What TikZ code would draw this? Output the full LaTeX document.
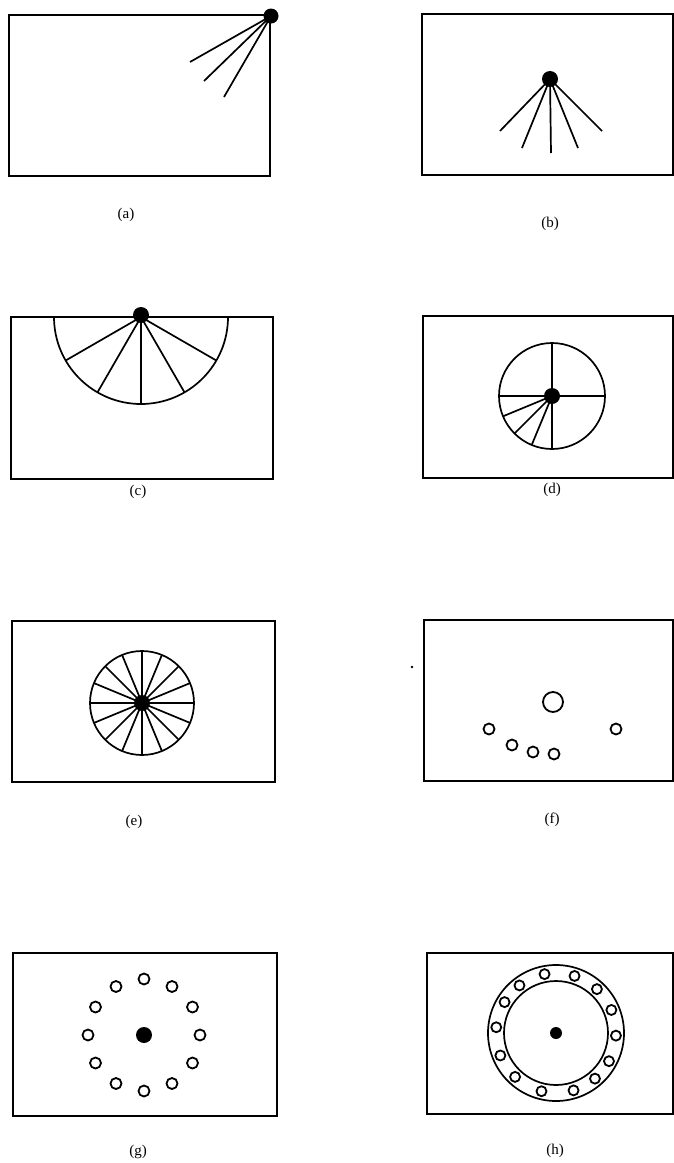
\documentclass[tikz,border=0pt]{standalone}
\usepackage{fontspec}
\setmainfont{Liberation Serif}
\begin{document}
\begin{tikzpicture}[x=1pt,y=-1pt,
  frame/.style={line width=1.8pt},
  spoke/.style={line width=1.7pt},
  hole/.style={line width=1.8pt,draw=black,fill=white},
  lab/.style={font=\fontsize{15}{17}\selectfont,inner sep=0pt}]
\useasboundingbox (0,0) rectangle (674,1163);

% ---------- (a)
\draw[frame] (9,15) rectangle (270,176);
\coordinate (a0) at (271,16);
\coordinate (a1) at (190,62);
\coordinate (a2) at (204,81);
\coordinate (a3) at (224,97);
\foreach \e in {a1,a2,a3} \draw[spoke] (a0) -- (\e);
\fill (a0) circle[radius=7.5pt];
\node[lab] (la) at (126,215) {(a)};

% ---------- (b)
\draw[frame] (422,14) rectangle (673,175);
\coordinate (b0) at (550,79);
\coordinate (b1) at (500,131);
\coordinate (b2) at (522,148);
\coordinate (b3) at (551,153);
\coordinate (b4) at (578,148);
\coordinate (b5) at (602,131);
\foreach \e in {b1,b2,b3,b4,b5} \draw[spoke] (b0) -- (\e);
\fill (b0) circle[radius=8pt];
\node[lab] (lb) at (550,224) {(b)};

% ---------- (c)
\draw[frame] (11,317) rectangle (273,479);
\coordinate (c0) at (141,317);
\draw[spoke] (54,317) arc[start angle=180,end angle=360,radius=87pt];
\foreach \a in {-30,-60,-90,-120,-150} \draw[spoke] (c0) -- ++(\a:87pt);
\fill (141,315) circle[radius=8pt];
\node[lab] (lc) at (138,492) {(c)};

% ---------- (d)
\draw[frame] (423,316) rectangle (673,478);
\coordinate (d0) at (552,396);
\draw[spoke] (d0) circle[radius=53pt];
\foreach \a in {0,90,180,270,202.5,225,247.5} \draw[spoke] (d0) -- ++(\a:53pt);
\fill (d0) circle[radius=8pt];
\node[lab] (ld) at (552,490) {(d)};

% ---------- (e)
\draw[frame] (12,621) rectangle (275,782);
\coordinate (e0) at (142,703);
\draw[spoke] (e0) circle[radius=52pt];
\foreach \a in {0,22.5,...,337.5} \draw[spoke] (e0) -- ++(\a:52pt);
\fill (e0) circle[radius=8pt];
\node[lab] (le) at (134,822) {(e)};

% ---------- (f)
\draw[frame] (424,620) rectangle (673,781);
\fill (412,667) circle[radius=1.3pt];
\draw[hole] (553,702) circle[radius=10pt];
\foreach \p in {(489,729),(512,745),(533,752),(554,754),(616,729)}
  \draw[hole] \p circle[radius=5.5pt];
\node[lab] (lf) at (552,820) {(f)};

% ---------- (g)
\draw[frame] (13,953) rectangle (277,1116);
\coordinate (g0) at (144,1035);
\foreach \a in {0,30,...,330} \draw[hole] (g0) ++(\a:56pt) circle[radius=5.5pt];
\fill (g0) circle[radius=8pt];
\node[lab] (lg) at (138,1152) {(g)};

% ---------- (h)
\draw[frame] (427,953) rectangle (673,1114);
\coordinate (h0) at (556,1033);
\draw[spoke] (h0) circle[radius=68pt];
\draw[spoke] (h0) circle[radius=52pt];
\foreach \a in {101,72,47,22.6,-2.5,-28,-49.5,-73,-104,-133,-158,174.5,149,127.5}
  \draw[hole] (h0) ++(\a:60pt) circle[radius=5pt];
\fill (h0) circle[radius=6pt];
\node[lab] (lh) at (555,1151) {(h)};
\end{tikzpicture}
\end{document}
